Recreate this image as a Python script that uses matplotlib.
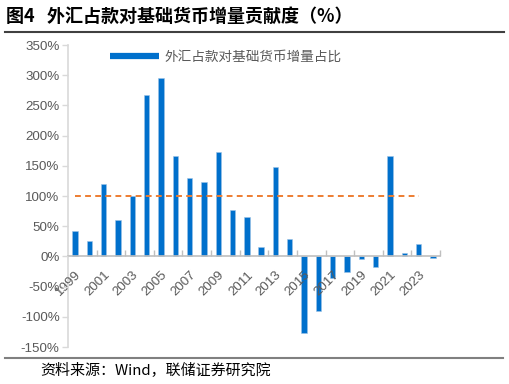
import matplotlib
matplotlib.use("Agg")
import matplotlib.pyplot as plt
from matplotlib.lines import Line2D
import numpy as np

years = [str(y) for y in range(1999, 2025)]
share = [42, 26, 120, 61, 100, 268, 296, 166, 130, 124, 173, 76, 65, 15, 148, 28,
         -126, -90, -36, -25, -4, -17, 166, 6, 20, -2]
ref_value = 100
ref_years = years[:-1]

title = "图4   外汇占款对基础货币增量贡献度（%）"
legend_label = "外汇占款对基础货币增量占比"
source = "资料来源：Wind，联储证券研究院"
yticks = [-150, -100, -50, 0, 50, 100, 150, 200, 250, 300, 350]

CJK = ['Noto Sans CJK SC', 'DejaVu Sans']
NUM = ['Liberation Sans', 'DejaVu Sans']
gray = '#595959'

fig = plt.figure(figsize=(5.09, 3.84), dpi=100)
ax = fig.add_axes([68/509, 1-347/384, 372/509, 302/384])
ax.set_axisbelow(False)

for s in ['top', 'right']:
    ax.spines[s].set_visible(False)
ax.spines['bottom'].set_position(('data', 0))
ax.spines['bottom'].set_color('#BFBFBF')
ax.spines['bottom'].set_linewidth(1.2)
ax.spines['left'].set_color('#D9D9D9')
ax.spines['left'].set_linewidth(1.2)

x = np.arange(len(years))
ax.bar(x, share, width=0.38, color='#0070CC', edgecolor='#9DC3E6', linewidth=0.4, zorder=2)
xr = np.arange(len(ref_years))
ax.plot(xr, [ref_value]*len(xr), color='#ED7D31', linestyle=(0, (3, 2.2)), linewidth=1.4, zorder=2.2)

ax.set_xlim(-0.5, len(years)-0.5)
ax.set_ylim(-150, 350)
ax.set_yticks(yticks)
ax.set_yticklabels([f"{v}%" for v in yticks], fontfamily=NUM, fontsize=9.6, color=gray)

ax.set_xticks(x[::2])
ax.set_xticklabels(years[::2], rotation=45, ha='right', va='top', rotation_mode='anchor',
                   fontfamily=NUM, fontsize=9.6, color=gray)
ax.set_xticks(np.arange(1.5, len(years), 2), minor=True)
ax.tick_params(axis='x', which='major', length=0, pad=9)
ax.tick_params(axis='x', which='minor', direction='in', length=4, color='#BFBFBF', width=1)
ax.tick_params(axis='y', direction='out', length=4, color='#D9D9D9', width=1, pad=2)

handle = Line2D([0], [0], color='#0070CC', linewidth=4.5, solid_capstyle='butt')
leg = ax.legend([handle], [legend_label], loc='center left',
                bbox_to_anchor=(98/509, 1-56.5/384), bbox_transform=fig.transFigure,
                frameon=False, handlelength=3.6, handletextpad=0.4,
                prop={'family': CJK, 'size': 9.8})
for t in leg.get_texts():
    t.set_color(gray)

fig.text(6/509, 1-16/384, title, fontfamily=CJK, fontsize=13, fontweight='bold',
         color='black', va='center', ha='left')
fig.add_artist(Line2D([5/509, 504/509], [1-31.5/384]*2, color='#404040', linewidth=1.5))
fig.add_artist(Line2D([5/509, 503/509], [1-358/384]*2, color='#808080', linewidth=1.5))
fig.text(40/509, 1-371/384, source, fontfamily=CJK, fontsize=10.8, color='black',
         va='center', ha='left')

fig.savefig('out.png', dpi=100)
